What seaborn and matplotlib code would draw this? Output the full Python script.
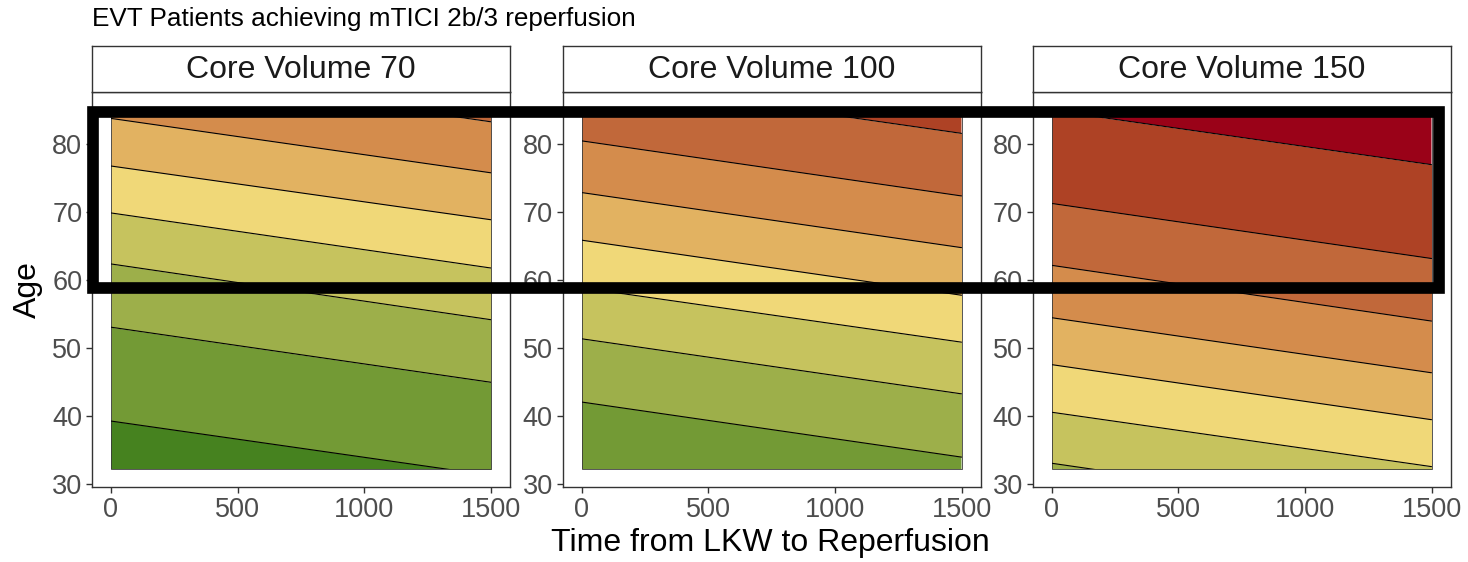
import numpy as np
import pandas as pd
import matplotlib
matplotlib.use("Agg")
import matplotlib.pyplot as plt
import seaborn as sns
from matplotlib.patches import Rectangle

# ---------------- data ----------------
panel_titles = ["Core Volume 70", "Core Volume 100", "Core Volume 150"]
time_range = [0, 1500]
age_range = [32.2, 85.0]

# contour boundary ages (bottom to top) read at time 0 and at time 1500
cv70_left = [39.3, 53.1, 62.4, 69.9, 76.8, 83.8, 91.3]
cv70_right = [31.3, 45.0, 54.2, 61.8, 68.9, 75.8, 83.3]
cv100_left = [42.1, 51.4, 58.9, 65.9, 72.9, 80.5, 89.6]
cv100_right = [34.0, 43.3, 50.9, 57.8, 64.8, 72.4, 81.6]
cv150_left = [33.1, 40.6, 47.6, 54.5, 62.2, 71.3, 85.0]
cv150_right = [25.0, 32.6, 39.5, 46.4, 54.0, 63.2, 77.0]

# index of the colour of the lowest band in each panel
first_band = [0, 1, 2]

band_colors = ["#46821F", "#739A35", "#9DAF4A", "#C6C35E", "#F0D878",
               "#E2B261", "#D48C4C", "#C1683A", "#AE4225", "#9A0218"]

x_ticks = [0, 500, 1000, 1500]
y_ticks = [30, 40, 50, 60, 70, 80]

title_text = "EVT Patients achieving mTICI 2b/3 reperfusion"
x_label = "Time from LKW to Reperfusion"
y_label = "Age"

panel_left = [cv70_left, cv100_left, cv150_left]
panel_right = [cv70_right, cv100_right, cv150_right]

# ---------------- style ----------------
sns.set_theme(style="white")
plt.rcParams["font.family"] = ["Liberation Sans", "DejaVu Sans"]

W, H = 1468, 562
fig = plt.figure(figsize=(W / 100, H / 100), dpi=100)

def fx(px):
    return px / W

def fy(py):
    return 1 - py / H

panel_x = [(92, 510), (562.5, 980.5), (1032.5, 1450.5)]
panel_top, panel_bot = 92.3, 487.3
strip_top = 45.5

span = age_range[1] - age_range[0]
ylim = (age_range[0] - 0.05 * span, age_range[1] + 0.05 * span)
xspan = time_range[1] - time_range[0]
xlim = (time_range[0] - 0.05 * xspan, time_range[1] + 0.05 * xspan)

tick_color = "#4D4D4D"
for k in range(3):
    x0, x1 = panel_x[k]
    ax = fig.add_axes([fx(x0), fy(panel_bot), fx(x1 - x0), (panel_bot - panel_top) / H])
    ax.set_xlim(*xlim)
    ax.set_ylim(*ylim)
    clip = Rectangle((time_range[0], age_range[0]), xspan, span, transform=ax.transData)

    lefts = panel_left[k]
    rights = panel_right[k]
    n = len(lefts)
    for i in range(n + 1):
        lo_l = lefts[i - 1] if i > 0 else -100
        lo_r = rights[i - 1] if i > 0 else -100
        hi_l = lefts[i] if i < n else 300
        hi_r = rights[i] if i < n else 300
        pc = ax.fill_between(time_range, [lo_l, lo_r], [hi_l, hi_r],
                             color=band_colors[first_band[k] + i], lw=0)
        pc.set_clip_path(clip)

    df = pd.DataFrame({
        "time": time_range * n,
        "age": [v for pair in zip(lefts, rights) for v in pair],
        "level": [i for i in range(n) for _ in range(2)],
    })
    nlines = len(ax.lines)
    sns.lineplot(data=df, x="time", y="age", units="level", estimator=None,
                 color="black", lw=0.8, ax=ax, legend=False)
    for ln in ax.lines[nlines:]:
        ln.set_clip_path(clip)

    ax.add_patch(Rectangle((time_range[0], age_range[0]), xspan, span,
                           fill=False, ec="#3A3A3A", lw=0.6))

    ax.set_xlabel("")
    ax.set_ylabel("")
    ax.set_xticks(x_ticks)
    ax.set_yticks(y_ticks)
    ax.set_xlim(*xlim)
    ax.set_ylim(*ylim)
    ax.tick_params(axis="both", which="both", length=4, width=1.0,
                   color="#333333", labelcolor=tick_color, labelsize=19.5,
                   bottom=True, left=True)
    ax.tick_params(axis="y", pad=3)
    ax.tick_params(axis="x", pad=3)
    for s in ax.spines.values():
        s.set_color("#333333")
        s.set_linewidth(1.0)
    ax.grid(False)

    # strip
    sax = fig.add_axes([fx(x0), fy(panel_top), fx(x1 - x0), (panel_top - strip_top) / H])
    sax.set_xticks([])
    sax.set_yticks([])
    sax.set_facecolor("white")
    for s in sax.spines.values():
        s.set_color("#333333")
        s.set_linewidth(1.0)
    sax.text(0.5, 0.47, panel_titles[k], ha="center", va="center",
             fontsize=23, color="#1A1A1A", transform=sax.transAxes)

fig.text(fx(92), fy(19), title_text, ha="left", va="center", fontsize=18.8, color="black")
fig.text(fx(770), fy(543), x_label, ha="center", va="center", fontsize=23, color="black")
fig.text(fx(28), fy(290), y_label, ha="center", va="center", fontsize=23,
         color="black", rotation=90)

# highlight box overlay
fig.patches.append(Rectangle((fx(93.3), fy(288)), fx(1439.2 - 93.3), (288 - 111.7) / H,
                             transform=fig.transFigure, fill=False, ec="black",
                             lw=8.4, joinstyle="miter", zorder=10))

fig.savefig("out.png", dpi=100)
